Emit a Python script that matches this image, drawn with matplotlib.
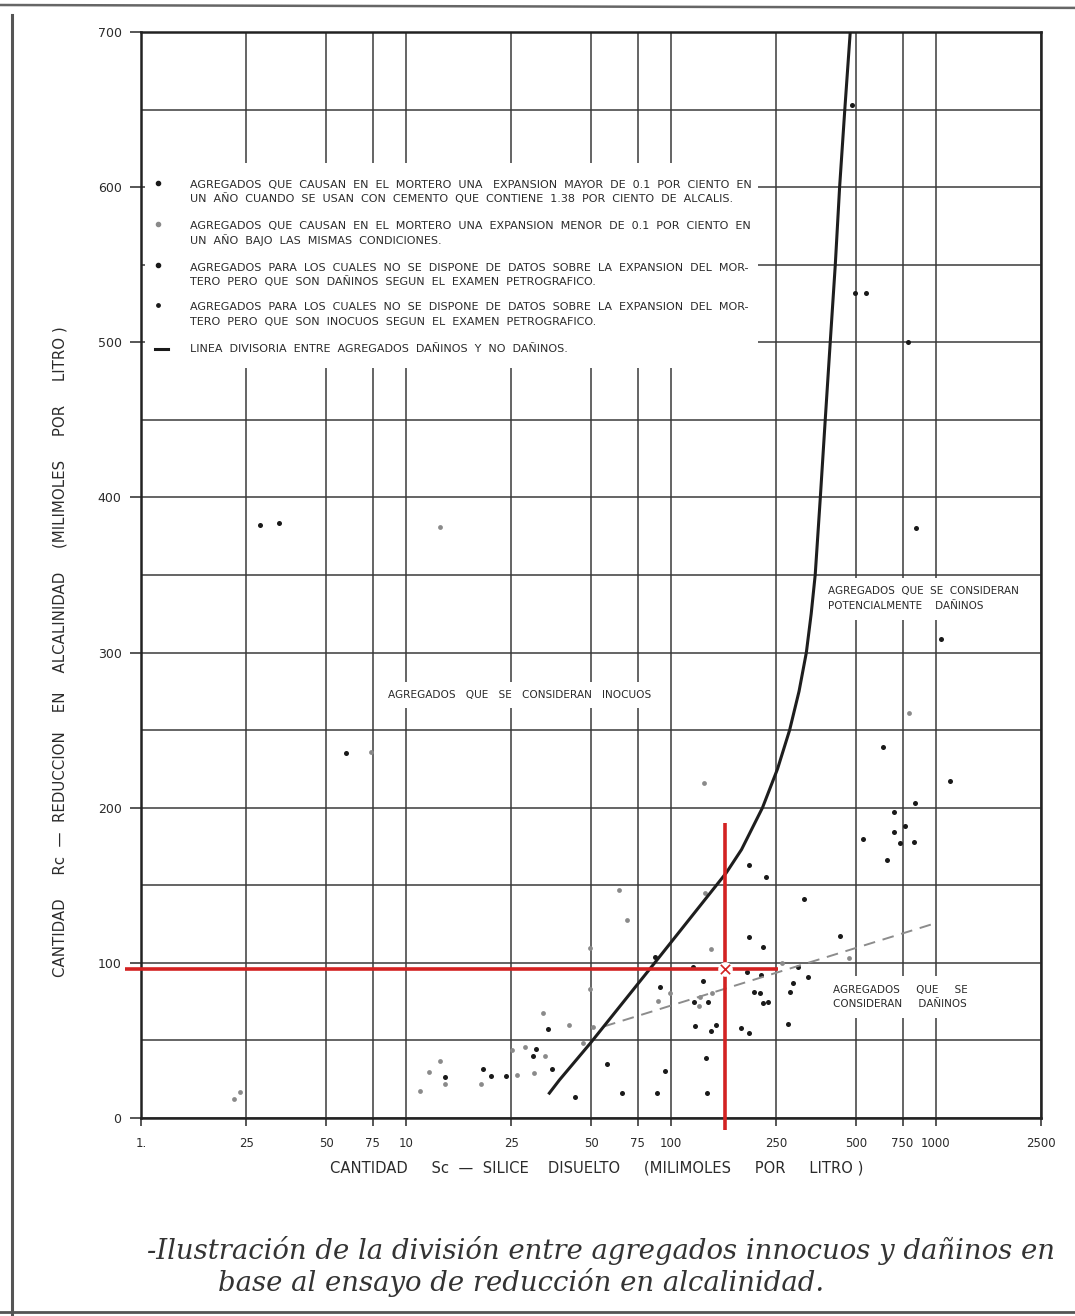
import matplotlib
matplotlib.use("Agg")
import matplotlib.pyplot as plt
from matplotlib.patches import Rectangle
from matplotlib.lines import Line2D

# --- data ---
x_ticks = [1, 2.5, 5, 7.5, 10, 25, 50, 75, 100, 250, 500, 750, 1000, 2500]
x_tick_labels = ["1.", "25", "50", "75", "10", "25", "50", "75", "100", "250",
                 "500", "750", "1000", "2500"]
y_ticks = [0, 100, 200, 300, 400, 500, 600, 700]

# black dots
dark_x = [482, 497, 548, 788, 2.81, 3.32, 5.94, 841, 1050, 631, 1130,
          833, 696, 766, 696, 530, 828, 736, 657, 318.6, 437,
          197, 229, 197, 223, 87.3, 121.4, 132.4, 90.8, 122.2, 138.3,
          194.5, 219.6, 206, 216.6, 223, 233, 281, 289, 302, 329.6, 277,
          123.2, 142.3, 147.8, 183.7, 197.5, 95.5, 136.2, 43.6, 65.5, 89,
          137.4, 57.5, 14.0, 19.6, 20.9, 23.8, 30.2, 31.0, 35.7, 34.5]
dark_y = [653, 532, 532, 500, 382.5, 383.8, 235, 380.5, 309, 239, 217,
          203, 197, 188.5, 184.4, 180, 178, 177, 166, 141, 117,
          163, 155, 116.4, 110.3, 104, 97, 88.4, 84.5, 74.9, 74.9,
          93.8, 92.1, 81.3, 80.3, 73.9, 74.9, 81.3, 87.2, 97.4, 91, 60.3,
          59.2, 56, 59.9, 57.8, 54.9, 30.3, 38.4, 13.7, 15.9, 16.3,
          15.9, 34.8, 26.2, 31.5, 26.8, 26.8, 40.1, 44.4, 31.5, 57.1]

# grey (lighter) dots
gray_x = [13.4, 7.38, 791, 133, 471, 63.8, 68.2, 135, 141.6, 49.6, 49.6,
          99.1, 89.8, 128.6, 143.6, 127.9, 264, 11.3, 12.2, 13.4, 14.0,
          19.2, 25.2, 26.3, 28.2, 33.6, 30.5, 32.8, 41.3, 46.7, 51, 2.24, 2.36]
gray_y = [381, 236, 261, 216, 103, 147, 127.5, 145, 108.8, 109.7, 83,
          80.7, 75.5, 78.1, 80.3, 72.3, 100, 17.2, 29.8, 36.9, 22.1,
          21.9, 43.8, 27.7, 45.5, 40.1, 28.8, 67.4, 59.9, 48, 58.6, 12.2, 16.5]

# dividing curve
curve_x = [34.8, 38, 49.6, 87, 162, 185, 222, 253, 281, 305, 325, 339, 351,
           367, 383, 400, 418, 434, 454, 476]
curve_y = [16, 24.5, 48, 100, 158, 173, 200, 225, 250, 275, 300, 325, 350,
           400, 450, 500, 550, 600, 650, 700]

# dashed trend line
dash_x = [56, 975]
dash_y = [59, 125]

# red reading lines
red_h_x = [0.87, 255]
red_h_y = [96, 96]
red_v_x = [160, 160]
red_v_y = [-8, 190]

legend_lines = [
    ("AGREGADOS  QUE  CAUSAN  EN  EL  MORTERO  UNA   EXPANSION  MAYOR  DE  0.1  POR  CIENTO  EN",
     "UN  AÑO  CUANDO  SE  USAN  CON  CEMENTO  QUE  CONTIENE  1.38  POR  CIENTO  DE  ALCALIS."),
    ("AGREGADOS  QUE  CAUSAN  EN  EL  MORTERO  UNA  EXPANSION  MENOR  DE  0.1  POR  CIENTO  EN",
     "UN  AÑO  BAJO  LAS  MISMAS  CONDICIONES."),
    ("AGREGADOS  PARA  LOS  CUALES  NO  SE  DISPONE  DE  DATOS  SOBRE  LA  EXPANSION  DEL  MOR-",
     "TERO  PERO  QUE  SON  DAÑINOS  SEGUN  EL  EXAMEN  PETROGRAFICO."),
    ("AGREGADOS  PARA  LOS  CUALES  NO  SE  DISPONE  DE  DATOS  SOBRE  LA  EXPANSION  DEL  MOR-",
     "TERO  PERO  QUE  SON  INOCUOS  SEGUN  EL  EXAMEN  PETROGRAFICO."),
    ("LINEA  DIVISORIA  ENTRE  AGREGADOS  DAÑINOS  Y  NO  DAÑINOS.", None),
]

INK = "#2b2b2b"
GRID = "#3a3a3a"
RED = "#d32222"

fig = plt.figure(figsize=(10.75, 13.16), dpi=100)
ax = fig.add_axes([0.1312, 0.1505, 0.8372, 0.8252])

ax.set_xscale("log")
ax.set_xlim(1, 2500)
ax.set_ylim(0, 700)

ax.set_xticks(x_ticks)
ax.set_xticklabels(x_tick_labels)
ax.xaxis.set_minor_locator(matplotlib.ticker.NullLocator())
ax.set_yticks(y_ticks)
ax.set_yticks(list(range(50, 700, 100)), minor=True)
ax.tick_params(axis="y", which="minor", length=0)
ax.tick_params(axis="y", which="major", direction="out", length=8, width=1.2,
               pad=6, labelsize=9, labelcolor=INK, color=GRID)
ax.tick_params(axis="x", which="major", direction="out", length=6, width=1.2,
               pad=8, labelsize=8.5, labelcolor=INK, color=GRID)

ax.grid(True, which="both", color=GRID, linewidth=1.1)
ax.set_axisbelow(True)
for s in ax.spines.values():
    s.set_linewidth(1.8)
    s.set_color("#222222")

# white box behind legend breaks the grid
ax.add_patch(Rectangle((0.004, 0.691), 0.682, 0.188, transform=ax.transAxes,
                       facecolor="white", edgecolor="none", zorder=1))

# points
ax.scatter(gray_x, gray_y, s=12, color="#8a8a8a", zorder=3, linewidths=0)
ax.scatter(dark_x, dark_y, s=13, color="#1a1a1a", zorder=3, linewidths=0)

# curve and dashed line
ax.plot(curve_x, curve_y, color="#1e1e1e", lw=2.2, zorder=4,
        solid_joinstyle="round")
ax.plot(dash_x, dash_y, color="#8c8c8c", lw=1.4, ls=(0, (6, 4)), zorder=3)

# red lines
ax.plot(red_h_x, red_h_y, color=RED, lw=2.6, zorder=5, clip_on=False,
        solid_capstyle="butt")
ax.plot(red_v_x, red_v_y, color=RED, lw=2.6, zorder=5, clip_on=False,
        solid_capstyle="butt")
ax.scatter([red_v_x[0]], [red_h_y[0]], s=90, color="white", zorder=6)
ax.scatter([red_v_x[0]], [red_h_y[0]], s=45, marker="x", color=RED,
           linewidths=1.2, zorder=7)

# legend
leg_y = [(0.859, 0.847), (0.821, 0.808), (0.783, 0.770), (0.747, 0.733), (0.708, None)]
leg_cols = ["#1a1a1a", "#8a8a8a", "#1a1a1a", "#1a1a1a"]
for i, ((l1, l2), (y1, y2)) in enumerate(zip(legend_lines, leg_y)):
    ax.text(0.054, y1, l1, transform=ax.transAxes, fontsize=8.0, color=INK,
            va="center", ha="left", zorder=6)
    if l2:
        ax.text(0.054, y2, l2, transform=ax.transAxes, fontsize=8.0, color=INK,
                va="center", ha="left", zorder=6)
    if i < 4:
        ax.scatter([0.019], [y1 + 0.002], transform=ax.transAxes, s=9 if i < 3 else 6,
                   color=leg_cols[i], zorder=6, clip_on=False)
    else:
        ax.add_line(Line2D([0.015, 0.030], [y1, y1], transform=ax.transAxes,
                           color="#1a1a1a", lw=2.2, zorder=6))

box = dict(facecolor="white", edgecolor="none", pad=6)
ax.text(0.421, 0.3895, "AGREGADOS   QUE   SE   CONSIDERAN   INOCUOS",
        transform=ax.transAxes, fontsize=7.6, color=INK, ha="center",
        va="center", bbox=box, zorder=2)
ax.text(0.763, 0.478, "AGREGADOS  QUE  SE  CONSIDERAN\nPOTENCIALMENTE    DAÑINOS",
        transform=ax.transAxes, fontsize=7.5, color=INK, ha="left",
        va="center", linespacing=1.6, bbox=box, zorder=2)
ax.text(0.769, 0.1114, "AGREGADOS     QUE     SE\nCONSIDERAN     DAÑINOS",
        transform=ax.transAxes, fontsize=7.5, color=INK, ha="left",
        va="center", linespacing=1.6, bbox=box, zorder=2)

# axis titles
fig.text(0.056, 0.5046,
         "CANTIDAD     Rc  —  REDUCCION    EN    ALCALINIDAD     (MILIMOLES     POR     LITRO )",
         rotation=90, fontsize=10.8, color=INK, ha="center", va="center")
fig.text(0.555, 0.1125,
         "CANTIDAD     Sc  —  SILICE    DISUELTO     (MILIMOLES     POR     LITRO )",
         fontsize=10.6, color=INK, ha="center", va="center")

# caption
fig.text(0.1367, 0.0494,
         "-Ilustración de la división entre agregados innocuos y dañinos en",
         family="DejaVu Serif", style="italic", fontsize=19.8, color="#333333",
         ha="left", va="center")
fig.text(0.2028, 0.0251, "base al ensayo de reducción en alcalinidad.",
         family="DejaVu Serif", style="italic", fontsize=19.8, color="#333333",
         ha="left", va="center")

# page frame of the scan
fig.add_artist(Line2D([0.0112, 0.0112], [0.0, 0.9886], color="#555555", lw=2.2))
fig.add_artist(Line2D([0.0, 1.0], [0.9962, 0.9940], color="#666666", lw=1.8))
fig.add_artist(Line2D([0.0, 1.0], [0.0030, 0.0030], color="#555555", lw=2.0))

fig.savefig("out.png", dpi=100, facecolor="white")
